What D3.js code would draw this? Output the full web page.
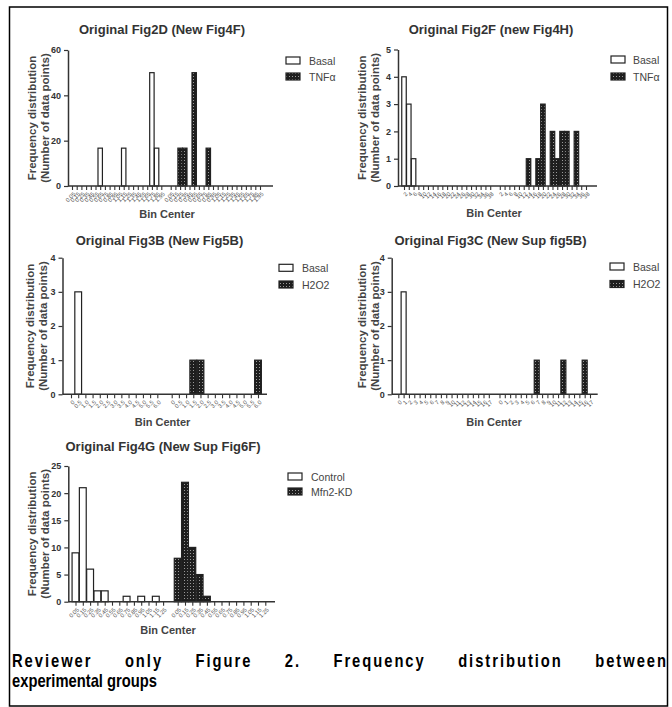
<!DOCTYPE html>
<html>
<head>
<meta charset="utf-8">
<script src="https://cdn.jsdelivr.net/npm/d3@7"></script>
<style>
body { margin: 0; background: #fff; }
svg text { font-family: "Liberation Sans", Arial, sans-serif; }
</style>
</head>
<body>
<div id="chart"></div>
<script>
// bin centre labels (unreadable in the source, estimated)
var bins2D = ["0.05","0.15","0.25","0.35","0.45","0.55","0.65","0.75","0.85","0.95","1.05","1.15","1.25","1.35","1.45","1.55","1.65","1.75","1.85","1.95"];
var bins2F = ["2","4","6","8","10","12","14","16","18","20","22","24","26","28","30","32","34","36","38"];
var bins3B = ["0","0.5","1.0","1.5","2.0","2.5","3.0","3.5","4.0","4.5","5.0","5.5","6.0"];
var bins3C = ["0","1","2","3","4","5","6","7","8","9","10","11","12","13","14","15","16","17"];
var bins4G = ["0.05","0.15","0.25","0.35","0.45","0.55","0.65","0.75","0.85","0.95","1.05","1.15","1.25"];

// frequency values per bin
var basal2D = [0,0,0,0,0,0,16.7,0,0,0,0,16.7,0,0,0,0,0,50,16.7,0];
var tnf2D   = [0,0,16.7,16.7,0,50,0,0,16.7,0,0,0,0,0,0,0,0,0,0,0];
var basal2F = [4,3,1,0,0,0,0,0,0,0,0,0,0,0,0,0,0,0,0];
var tnf2F   = [0,0,0,0,0,0,1,0,1,3,0,2,1,2,2,0,2,0,0];
var basal3B = [0,3,0,0,0,0,0,0,0,0,0,0,0];
var h2o23B  = [0,0,0,1,1,0,0,0,0,0,0,0,1];
var basal3C = [0,3,0,0,0,0,0,0,0,0,0,0,0,0,0,0,0,0];
var h2o23C  = [0,0,0,0,0,0,0,1,0,0,0,0,1,0,0,0,1,0];
var control4G = [9,21,6,2,2,0,0,1,0,1,0,1,0];
var kd4G      = [8,22,10,5,1,0,0,0,0,0,0,0,0];

var panels = [
  {title: "Original Fig2D (New Fig4F)", bins: bins2D, a: basal2D, b: tnf2D, names: ["Basal", "TNF\u03b1"],
   yMax: 60, yTicks: [0,20,40,60], left: 68, right: 273, first: 72, last: 260, y0: 186, yTop: 50,
   tx: 162, ty: 34, ly: [31.7, 45], bx: 167, by: 218, gx: 286, gy: [57, 73], gt: 309},
  {title: "Original Fig2F  (new Fig4H)", bins: bins2F, a: basal2F, b: tnf2F, names: ["Basal", "TNF\u03b1"],
   yMax: 5, yTicks: [0,1,2,3,4,5], left: 398, right: 597, first: 404, last: 586, y0: 186, yTop: 49.5,
   tx: 491, ty: 34, ly: [361.7, 375], bx: 494, by: 217, gx: 611, gy: [56, 73], gt: 633},
  {title: "Original Fig3B (New Fig5B)", bins: bins3B, a: basal3B, b: h2o23B, names: ["Basal", "H2O2"],
   yMax: 4, yTicks: [0,1,2,3,4], left: 62.5, right: 267, first: 71, last: 258, y0: 394.3, yTop: 257.7,
   tx: 159.5, ty: 245, ly: [30, 43.3], bx: 162.5, by: 426, gx: 279, gy: [264.3, 281], gt: 302},
  {title: "Original Fig3C  (New Sup fig5B)", bins: bins3C, a: basal3C, b: h2o23C, names: ["Basal", "H2O2"],
   yMax: 4, yTicks: [0,1,2,3,4], left: 391.7, right: 597.7, first: 398.3, last: 590, y0: 394.3, yTop: 257.7,
   tx: 490.5, ty: 245, ly: [361.7, 375], bx: 494, by: 426, gx: 610, gy: [263, 280.5], gt: 633},
  {title: "Original Fig4G  (New Sup Fig6F)", bins: bins4G, a: control4G, b: kd4G, names: ["Control", "Mfn2-KD"],
   yMax: 25, yTicks: [0,5,10,15,20,25], left: 68.3, right: 275, first: 75.5, last: 265.3, y0: 601.7, yTop: 466,
   tx: 163, ty: 451, ly: [31.7, 45], bx: 168, by: 634, gx: 288, gy: [473, 488], gt: 311}
];

var svg = d3.select("#chart").append("svg")
  .attr("width", 672)
  .attr("height", 707);

var pat = svg.append("defs").append("pattern")
  .attr("id", "chk")
  .attr("width", 3).attr("height", 3)
  .attr("patternUnits", "userSpaceOnUse");
pat.append("rect").attr("width", 3).attr("height", 3).attr("fill", "#1e1e1e");
pat.append("rect").attr("x", 1).attr("y", 1).attr("width", 1).attr("height", 1).attr("fill", "#9a9a9a");

// frame
svg.append("rect")
  .attr("x", 9.5).attr("y", 7)
  .attr("width", 658).attr("height", 699)
  .attr("fill", "none")
  .attr("stroke", "#000")
  .attr("stroke-width", 1.5);

panels.forEach(drawPanel);

function drawPanel(p) {
  var g = svg.append("g");
  var keysA = p.bins.map(function(d, i) { return "a" + i; });
  var keysB = p.bins.map(function(d, i) { return "b" + i; });
  var keys = keysA.concat(["gap"], keysB);

  var x = d3.scalePoint().domain(keys).range([p.first, p.last]);
  var y = d3.scaleLinear().domain([0, p.yMax]).range([p.y0, p.yTop]);
  var bw = x.step() * 0.94;

  var bars = [];
  p.a.forEach(function(v, i) { if (v > 0) bars.push({key: "a" + i, value: v, fill: "#fff"}); });
  p.b.forEach(function(v, i) { if (v > 0) bars.push({key: "b" + i, value: v, fill: "url(#chk)"}); });

  g.selectAll(".bar").data(bars).enter()
   .append("rect")
    .attr("class", "bar")
    .attr("x", function(d) { return x(d.key) - bw / 2; })
    .attr("y", function(d) { return y(d.value); })
    .attr("width", bw)
    .attr("height", function(d) { return y(0) - y(d.value); })
    .attr("fill", function(d) { return d.fill; })
    .attr("stroke", "#222")
    .attr("stroke-width", 1.2);

  // x axis
  var xa = g.append("g")
    .attr("transform", "translate(0," + p.y0 + ")")
    .call(d3.axisBottom(x)
      .tickValues(keys.filter(function(k) { return k !== "gap"; }))
      .tickSize(4)
      .tickSizeOuter(0)
      .tickFormat(function(k) { return p.bins[+k.slice(1)]; }));
  xa.select(".domain").remove();
  xa.selectAll(".tick line").attr("stroke", "#333").attr("stroke-width", 1.1);
  xa.selectAll(".tick text")
    .attr("x", 0).attr("y", 0).attr("dy", "0.35em")
    .attr("transform", "translate(2,7) rotate(-45)")
    .style("text-anchor", "end")
    .style("font-size", "5.8px")
    .attr("fill", "#555");
  g.append("line")
    .attr("x1", p.left).attr("x2", p.right)
    .attr("y1", p.y0).attr("y2", p.y0)
    .attr("stroke", "#333").attr("stroke-width", 1.5);

  // y axis
  var ya = g.append("g")
    .attr("transform", "translate(" + p.left + ",0)")
    .call(d3.axisLeft(y).tickValues(p.yTicks).tickSize(4).tickSizeOuter(0)
      .tickFormat(d3.format("d")));
  ya.select(".domain").attr("stroke", "#333").attr("stroke-width", 1.5);
  ya.selectAll(".tick line").attr("stroke", "#333").attr("stroke-width", 1.2);
  ya.selectAll(".tick text")
    .style("font-size", "9px")
    .style("font-weight", "bold")
    .attr("fill", "#333");

  g.append("text")
    .text(p.title)
    .attr("x", p.tx).attr("y", p.ty)
    .style("text-anchor", "middle")
    .style("font-size", "13px")
    .style("font-weight", "bold")
    .attr("fill", "#333");

  var cy = (p.y0 + p.yTop) / 2;
  ["Frequency distribution", "(Number of data points)"].forEach(function(t, i) {
    g.append("text")
      .text(t)
      .attr("transform", "translate(" + p.ly[i] + "," + cy + ") rotate(-90)")
      .attr("dy", "0.35em")
      .style("text-anchor", "middle")
      .style("font-size", "11.5px")
      .style("font-weight", "bold")
      .attr("fill", "#444");
  });

  g.append("text")
    .text("Bin Center")
    .attr("x", p.bx).attr("y", p.by)
    .style("text-anchor", "middle")
    .style("font-size", "11px")
    .style("font-weight", "bold")
    .attr("fill", "#444");

  // legend
  p.names.forEach(function(n, i) {
    g.append("rect")
      .attr("x", p.gx).attr("y", p.gy[i])
      .attr("width", 14).attr("height", 7)
      .attr("fill", i === 0 ? "#fff" : "url(#chk)")
      .attr("stroke", "#222").attr("stroke-width", 1.2);
    g.append("text")
      .text(n)
      .attr("x", p.gt).attr("y", p.gy[i] + 7.5)
      .style("font-size", "10.5px")
      .attr("fill", "#444");
  });
}

// caption: narrow bold face, first line justified and letter-spaced like the source
var sx = 0.82;
var words = ["Reviewer", "only", "Figure", "2.", "Frequency", "distribution", "between"];
var cap = svg.append("g").attr("transform", "scale(" + sx + ",1)");
var wt = cap.selectAll("text").data(words).enter()
  .append("text")
   .text(function(d) { return d; })
   .attr("y", 667)
   .style("font-size", "18px")
   .style("font-weight", "bold")
   .style("letter-spacing", "2.4px")
   .attr("fill", "#000");
var widths = [];
wt.each(function() { widths.push(this.getComputedTextLength()); });
var gapW = (668 / sx - 12 / sx - d3.sum(widths)) / (words.length - 1);
var pos = 12 / sx;
wt.attr("x", function(d, i) { var p0 = pos; pos += widths[i] + gapW; return p0; });

cap.append("text")
  .text("experimental groups")
  .attr("x", 12 / sx).attr("y", 687)
  .style("font-size", "18px")
  .style("font-weight", "bold")
  .attr("fill", "#000");
</script>
</body>
</html>
